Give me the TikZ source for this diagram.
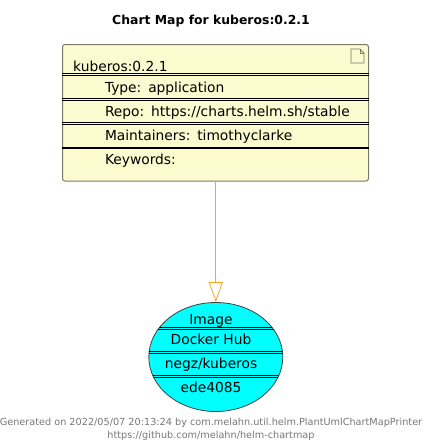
\documentclass[tikz,border=0pt]{standalone}
\usepackage{fontspec}
\setmainfont{DejaVu Sans}
\usetikzlibrary{arrows.meta,shapes.geometric}
\definecolor{notefill}{HTML}{FBFBCF}
\definecolor{noteline}{HTML}{7A7A68}
\definecolor{imagefill}{HTML}{00FFFF}
\definecolor{linkline}{HTML}{F5A623}
\definecolor{footgrey}{HTML}{777777}
\tikzset{
  chartbox/.style={draw=noteline, fill=notefill, line width=1pt, rounded corners=2.5pt, inner sep=0pt},
  imagebox/.style={ellipse, draw=black!75, fill=imagefill, line width=0.8pt, inner sep=0pt},
  rowtext/.style={inner sep=0pt, text height=11pt, text depth=3pt, text width=250pt, align=left, font=\fontsize{13.8}{16}\selectfont},
  imagetext/.style={inner sep=0pt, text height=11pt, text depth=3pt, align=center, font=\fontsize{13.8}{16}\selectfont},
  rowline/.style={draw=black, line width=0.65pt},
  footer/.style={inner sep=0pt, anchor=base, text=footgrey, font=\fontsize{9.7}{11}\selectfont},
}
\begin{document}
\begin{tikzpicture}[x=1pt, y=-1pt, node distance=24.3pt]
    \useasboundingbox (0,0) rectangle (429,447);
    \node (title) [inner sep=0pt, anchor=base, font=\bfseries\fontsize{12.4}{16}\selectfont] at (211,24) {Chart Map for kuberos:0.2.1};

    % chart
    \node (chart) [chartbox, minimum width=306pt, minimum height=136.5pt] at (215.5,112.75) {};
    \foreach \y/\z in {73.7/75.5,98.2/100,122.2/124,147/148.8} {
        \draw[rowline] (chart.west |- 0,\y) -- (chart.east |- 0,\y);
        \draw[rowline] (chart.west |- 0,\z) -- (chart.east |- 0,\z);
    }
    \draw[noteline, line width=0.9pt, fill=notefill] (351,49) -- (360,49) -- (364,53) -- (364,63) -- (351,63) -- cycle;
    \draw[noteline, line width=0.9pt] (360,49) -- (360,53) -- (364,53);
    \node (name) [inner sep=0pt, anchor=base west, font=\fontsize{13.8}{16}\selectfont] at (73,71) {kuberos:0.2.1};
    \node (type) [rowtext] at (230,88) {Type: application};
    \node (repo) [rowtext, below of=type] {Repo: https://charts.helm.sh/stable};
    \node (maint) [rowtext, below of=repo] {Maintainers: timothyclarke};
    \node (keywords) [rowtext, below of=maint] {Keywords:};

    % image
    \node (image) [imagebox, minimum width=134pt, minimum height=109pt] at (215.8,357) {};
    \begin{scope}
        \clip (215.8,357) ellipse [x radius=67, y radius=54.5];
        \foreach \y/\z in {327.3/329.1,351.1/352.9,375.3/377.1} {
            \draw[rowline] (image.west |- 0,\y) -- (image.east |- 0,\y);
            \draw[rowline] (image.west |- 0,\z) -- (image.east |- 0,\z);
        }
    \end{scope}
    \node (kind) [imagetext] at (211,320) {Image};
    \node (hub) [imagetext] at (211,340) {Docker Hub};
    \node (repository) [imagetext, below of=hub] {negz/kuberos};
    \node (digest) [imagetext, below of=repository] {ede4085};

    \draw[linkline, line width=0.8pt, -{Triangle[open, length=20pt, width=14pt, fill=white]}] (chart.south -| image.north) -- (image.north);

    \node (generated) [footer] at (211,425) {Generated on 2022/05/07 20:13:24 by com.melahn.util.helm.PlantUmlChartMapPrinter};
    \node (source) [footer] at (211,438) {https://github.com/melahn/helm-chartmap};
\end{tikzpicture}
\end{document}
